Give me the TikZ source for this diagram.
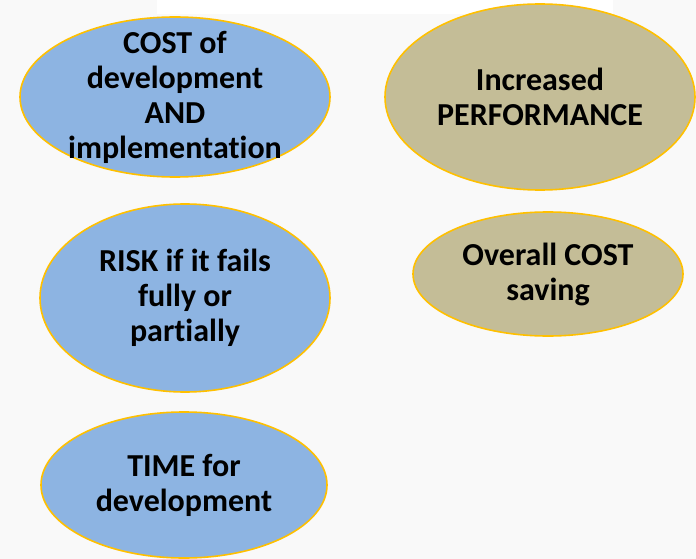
\documentclass[tikz,border=0pt]{standalone}
\usepackage{fontspec}
\setmainfont[Ligatures=NoCommon]{Carlito}
\usetikzlibrary{shapes.geometric}
\definecolor{ovalblue}{RGB}{141,180,226}
\definecolor{ovaltan}{RGB}{196,189,151}
\definecolor{ovalrim}{RGB}{255,192,0}
\definecolor{slidebg}{RGB}{249,249,249}
\begin{document}
\begin{tikzpicture}[x=1pt,y=-1pt,
  oval/.style={ellipse,draw=ovalrim,line width=1.6pt,inner sep=0pt},
  blueoval/.style={oval,fill=ovalblue},
  tanoval/.style={oval,fill=ovaltan},
  caption/.style={align=center,inner sep=0pt,font=\bfseries\fontsize{32}{35}\selectfont}]
% slide background
\fill[slidebg] (0,0) rectangle (696,559);
\fill[white] (157,0) rectangle (613,14);
% left column: costs
\node[blueoval,minimum width=310,minimum height=160] (cost) at (175,97) {};
\node[caption] (costtxt) at (cost) {COST of\\development\\AND\\implementation};
\node[blueoval,minimum width=290,minimum height=188] (risk) at (185,298) {};
\node[caption] (risktxt) at (risk) {RISK if it fails\\fully or\\partially};
\node[blueoval,minimum width=286,minimum height=146] (time) at (184,485) {};
\node[caption] (timetxt) at (time) {TIME for\\development};
% right column: gains
\node[tanoval,minimum width=310,minimum height=186] (perf) at (540,97) {};
\node[caption] (perftxt) at (perf) {Increased\\PERFORMANCE};
\node[tanoval,minimum width=270,minimum height=124] (saving) at (548,274) {};
\node[caption] (savingtxt) at (saving) {Overall COST\\saving};
\end{tikzpicture}
\end{document}
